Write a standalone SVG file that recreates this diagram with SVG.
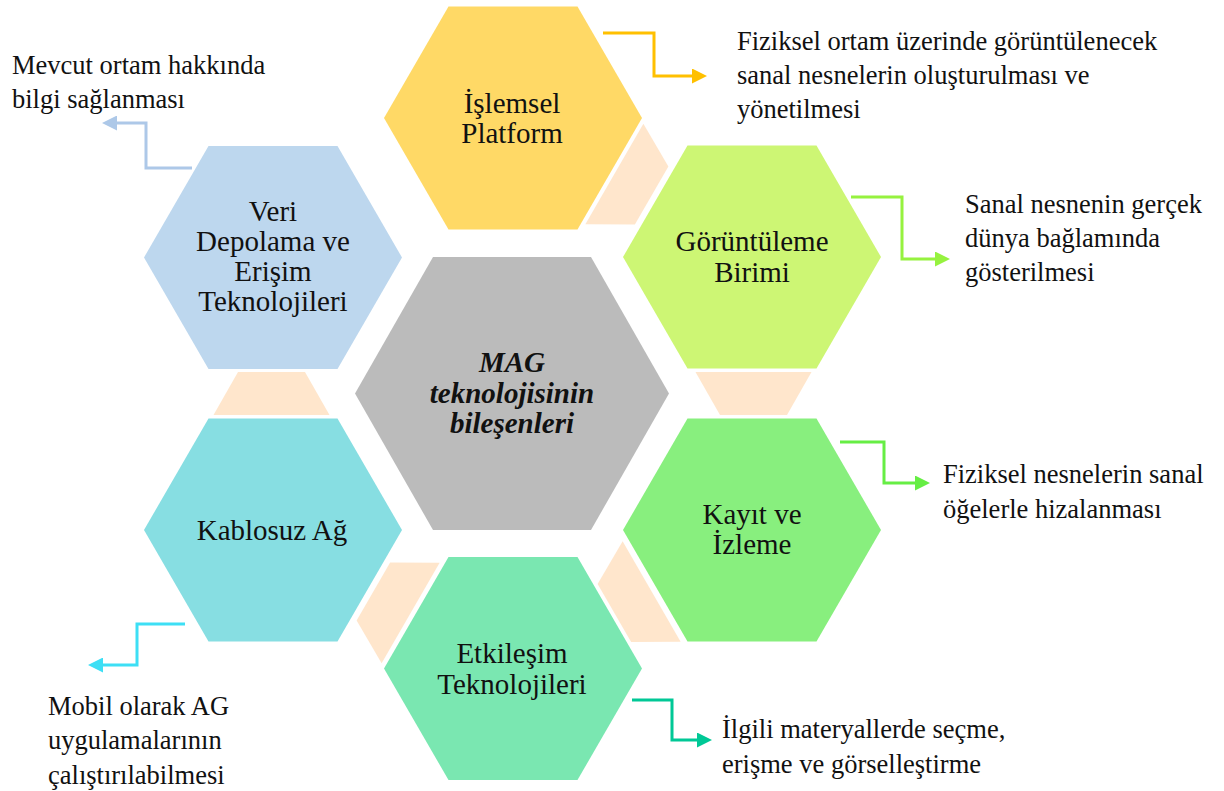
<svg xmlns="http://www.w3.org/2000/svg" xmlns:xlink="http://www.w3.org/1999/xlink" width="1224" height="791" viewBox="0 0 1224 791">
  <style>
    .node-text { font-family: "Liberation Serif", "Times New Roman", serif; font-size: 29px; fill: #111; text-anchor: middle; }
    .hub-text { font-family: "Liberation Serif", "Times New Roman", serif; font-size: 29px; fill: #111; text-anchor: middle; font-weight: bold; font-style: italic; }
    .label { font-family: "Liberation Serif", "Times New Roman", serif; font-size: 26.5px; fill: #111; }
    .link { fill: #FFE6CC; }
    .conn { fill: none; stroke-width: 3; stroke-linejoin: miter; }
  </style>
  <defs>
    <path id="hex-s" d="M-129,0 L-64.5,-111.5 L64.5,-111.5 L129,0 L64.5,111.5 L-64.5,111.5 Z"/>
    <path id="hex-l" d="M-157,0 L-79,-136.5 L79,-136.5 L157,0 L79,136.5 L-79,136.5 Z"/>
    <polygon id="link-piece" points="183,-21.5 299,-21.5 274.5,21.5 207.5,21.5"/>
    <marker id="ah-yellow" viewBox="0 0 10 10" refX="0" refY="5" markerWidth="5" markerHeight="5" orient="auto"><path d="M0,0 L10,5 L0,10 Z" fill="#FFC000"/></marker>
    <marker id="ah-lime" viewBox="0 0 10 10" refX="0" refY="5" markerWidth="5" markerHeight="5" orient="auto"><path d="M0,0 L10,5 L0,10 Z" fill="#96F23F"/></marker>
    <marker id="ah-green" viewBox="0 0 10 10" refX="0" refY="5" markerWidth="5" markerHeight="5" orient="auto"><path d="M0,0 L10,5 L0,10 Z" fill="#66EE44"/></marker>
    <marker id="ah-teal" viewBox="0 0 10 10" refX="0" refY="5" markerWidth="5" markerHeight="5" orient="auto"><path d="M0,0 L10,5 L0,10 Z" fill="#00C896"/></marker>
    <marker id="ah-cyan" viewBox="0 0 10 10" refX="0" refY="5" markerWidth="5" markerHeight="5" orient="auto"><path d="M0,0 L10,5 L0,10 Z" fill="#3DDFF5"/></marker>
    <marker id="ah-blue" viewBox="0 0 10 10" refX="0" refY="5" markerWidth="5" markerHeight="5" orient="auto"><path d="M0,0 L10,5 L0,10 Z" fill="#ADC8E8"/></marker>
  </defs>

  <rect width="1224" height="791" fill="#FFFFFF"/>

  <!-- joining trapezoids between neighbouring hexagons -->
  <g id="links" transform="translate(512.5,393.5)">
    <use xlink:href="#link-piece" class="link" transform="rotate(0)"/>
    <use xlink:href="#link-piece" class="link" transform="rotate(60)"/>
    <use xlink:href="#link-piece" class="link" transform="rotate(120)"/>
    <use xlink:href="#link-piece" class="link" transform="rotate(180)"/>
    <use xlink:href="#link-piece" class="link" transform="rotate(300)"/>
  </g>

  <g id="node-hub">
    <use xlink:href="#hex-l" transform="translate(512,393.5)" fill="#BBBBBB"/>
    <text class="hub-text" x="512" y="372">MAG</text>
    <text class="hub-text" x="512" y="402.5">teknolojisinin</text>
    <text class="hub-text" x="512" y="433">bileşenleri</text>
  </g>

  <g id="node-islemsel">
    <use xlink:href="#hex-s" transform="translate(513,118)" fill="#FFD966"/>
    <text class="node-text" x="512" y="113">İşlemsel</text>
    <text class="node-text" x="512" y="143">Platform</text>
  </g>

  <g id="node-goruntuleme">
    <use xlink:href="#hex-s" transform="translate(752,257)" fill="#CDF674"/>
    <text class="node-text" x="752" y="251">Görüntüleme</text>
    <text class="node-text" x="752" y="282">Birimi</text>
  </g>

  <g id="node-kayit">
    <use xlink:href="#hex-s" transform="translate(752,530)" fill="#88EF7E"/>
    <text class="node-text" x="752" y="524">Kayıt ve</text>
    <text class="node-text" x="752" y="554">İzleme</text>
  </g>

  <g id="node-etkilesim">
    <use xlink:href="#hex-s" transform="translate(513,668.5)" fill="#7AE7B1"/>
    <text class="node-text" x="512" y="663">Etkileşim</text>
    <text class="node-text" x="512" y="694">Teknolojileri</text>
  </g>

  <g id="node-kablosuz">
    <use xlink:href="#hex-s" transform="translate(273,530)" fill="#87DEE2"/>
    <text class="node-text" x="272" y="540">Kablosuz Ağ</text>
  </g>

  <g id="node-veri">
    <use xlink:href="#hex-s" transform="translate(273,257.5)" fill="#BDD7EE"/>
    <text class="node-text" x="273" y="221">Veri</text>
    <text class="node-text" x="273" y="251">Depolama ve</text>
    <text class="node-text" x="273" y="281">Erişim</text>
    <text class="node-text" x="273" y="311">Teknolojileri</text>
  </g>

  <!-- elbow arrows pointing to the descriptions -->
  <g id="connectors">
    <path class="conn" stroke="#FFC000" marker-end="url(#ah-yellow)" d="M603,33 H654 V76 H692"/>
    <path class="conn" stroke="#96F23F" marker-end="url(#ah-lime)" d="M851,197 H902 V259 H935"/>
    <path class="conn" stroke="#66EE44" marker-end="url(#ah-green)" d="M840,442 H884 V483 H915"/>
    <path class="conn" stroke="#00C896" marker-end="url(#ah-teal)" d="M632,700 H672 V740 H697"/>
    <path class="conn" stroke="#3DDFF5" marker-end="url(#ah-cyan)" d="M185,624 H137 V665 H103"/>
    <path class="conn" stroke="#ADC8E8" marker-end="url(#ah-blue)" d="M192,168 H146 V123 H117"/>
  </g>

  <g id="descriptions">
    <text class="label" x="737" y="50">Fiziksel ortam üzerinde görüntülenecek</text>
    <text class="label" x="737" y="84">sanal nesnelerin oluşturulması ve</text>
    <text class="label" x="737" y="118">yönetilmesi</text>

    <text class="label" x="965" y="213">Sanal nesnenin gerçek</text>
    <text class="label" x="965" y="247">dünya bağlamında</text>
    <text class="label" x="965" y="281">gösterilmesi</text>

    <text class="label" x="943" y="483">Fiziksel nesnelerin sanal</text>
    <text class="label" x="943" y="518">öğelerle hizalanması</text>

    <text class="label" x="722" y="738">İlgili materyallerde seçme,</text>
    <text class="label" x="722" y="773">erişme ve görselleştirme</text>

    <text class="label" x="48" y="715">Mobil olarak AG</text>
    <text class="label" x="48" y="749">uygulamalarının</text>
    <text class="label" x="48" y="784">çalıştırılabilmesi</text>

    <text class="label" x="12" y="74">Mevcut ortam hakkında</text>
    <text class="label" x="12" y="108">bilgi sağlanması</text>
  </g>
</svg>
